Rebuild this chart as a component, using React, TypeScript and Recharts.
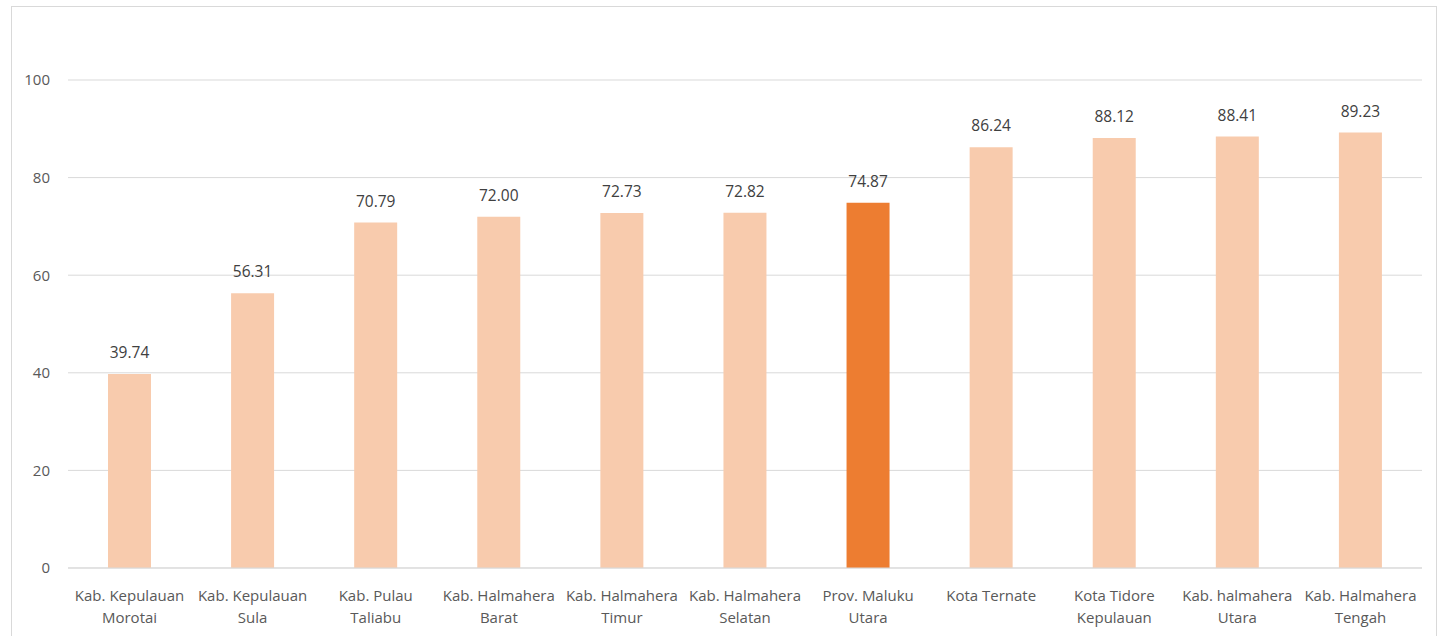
import React from "react";
import { BarChart, Bar, XAxis, YAxis, CartesianGrid, LabelList, Cell } from "recharts";

const categories = [
  "Kab. Kepulauan\nMorotai",
  "Kab. Kepulauan\nSula",
  "Kab. Pulau\nTaliabu",
  "Kab. Halmahera\nBarat",
  "Kab. Halmahera\nTimur",
  "Kab. Halmahera\nSelatan",
  "Prov. Maluku\nUtara",
  "Kota Ternate",
  "Kota Tidore\nKepulauan",
  "Kab. halmahera\nUtara",
  "Kab. Halmahera\nTengah",
];
const values = [39.74, 56.31, 70.79, 72.0, 72.73, 72.82, 74.87, 86.24, 88.12, 88.41, 89.23];
const highlight = "Prov. Maluku\nUtara";
const yTicks = [0, 20, 40, 60, 80, 100];

const data = categories.map((c, i) => ({ name: c, value: values[i] }));

const FONT = "'Open Sans', sans-serif";

const CatTick = (props: any) => {
  const { x, y, payload } = props;
  const lines = String(payload.value).split("\n");
  return (
    <text x={x} y={y} textAnchor="middle" fill="#595959" fontSize={15} fontFamily={FONT}>
      {lines.map((l, i) => (
        <tspan key={i} x={x} dy={i === 0 ? 33 : 22}>
          {l}
        </tspan>
      ))}
    </text>
  );
};

export default function App() {
  return (
    <div style={{ position: "absolute", left: 0, top: 0, width: 1447, height: 636, overflow: "hidden", background: "#fff" }}>
      <div
        style={{
          position: "absolute",
          left: 11,
          top: 6,
          width: 1426,
          height: 660,
          border: "1px solid #d9d9d9",
          boxSizing: "border-box",
        }}
      />
      <div style={{ position: "absolute", left: 0, top: 0 }}>
        <BarChart width={1447} height={636} data={data} margin={{ top: 80, right: 25, bottom: 0, left: 0 }} barSize={43}>
          <CartesianGrid vertical={false} stroke="#d9d9d9" strokeWidth={1} />
          <XAxis
            dataKey="name"
            interval={0}
            tick={<CatTick />}
            tickLine={false}
            tickSize={0}
            tickMargin={0}
            height={68}
            axisLine={{ stroke: "#d9d9d9" }}
          />
          <YAxis
            domain={[0, 100]}
            ticks={yTicks}
            width={68}
            axisLine={false}
            tickLine={false}
            tickSize={0}
            tickMargin={18}
            tick={{ fill: "#595959", fontSize: 15, fontFamily: FONT }}
          />
          <Bar dataKey="value" isAnimationActive={false}>
            {data.map((d, i) => (
              <Cell key={i} fill={d.name === highlight ? "#ED7D31" : "#F8CBAD"} />
            ))}
            <LabelList
              dataKey="value"
              position="top"
              offset={16}
              formatter={(v: any) => Number(v).toFixed(2)}
              fill="#404040"
              fontSize={15.5}
              fontFamily={FONT}
            />
          </Bar>
        </BarChart>
      </div>
    </div>
  );
}
